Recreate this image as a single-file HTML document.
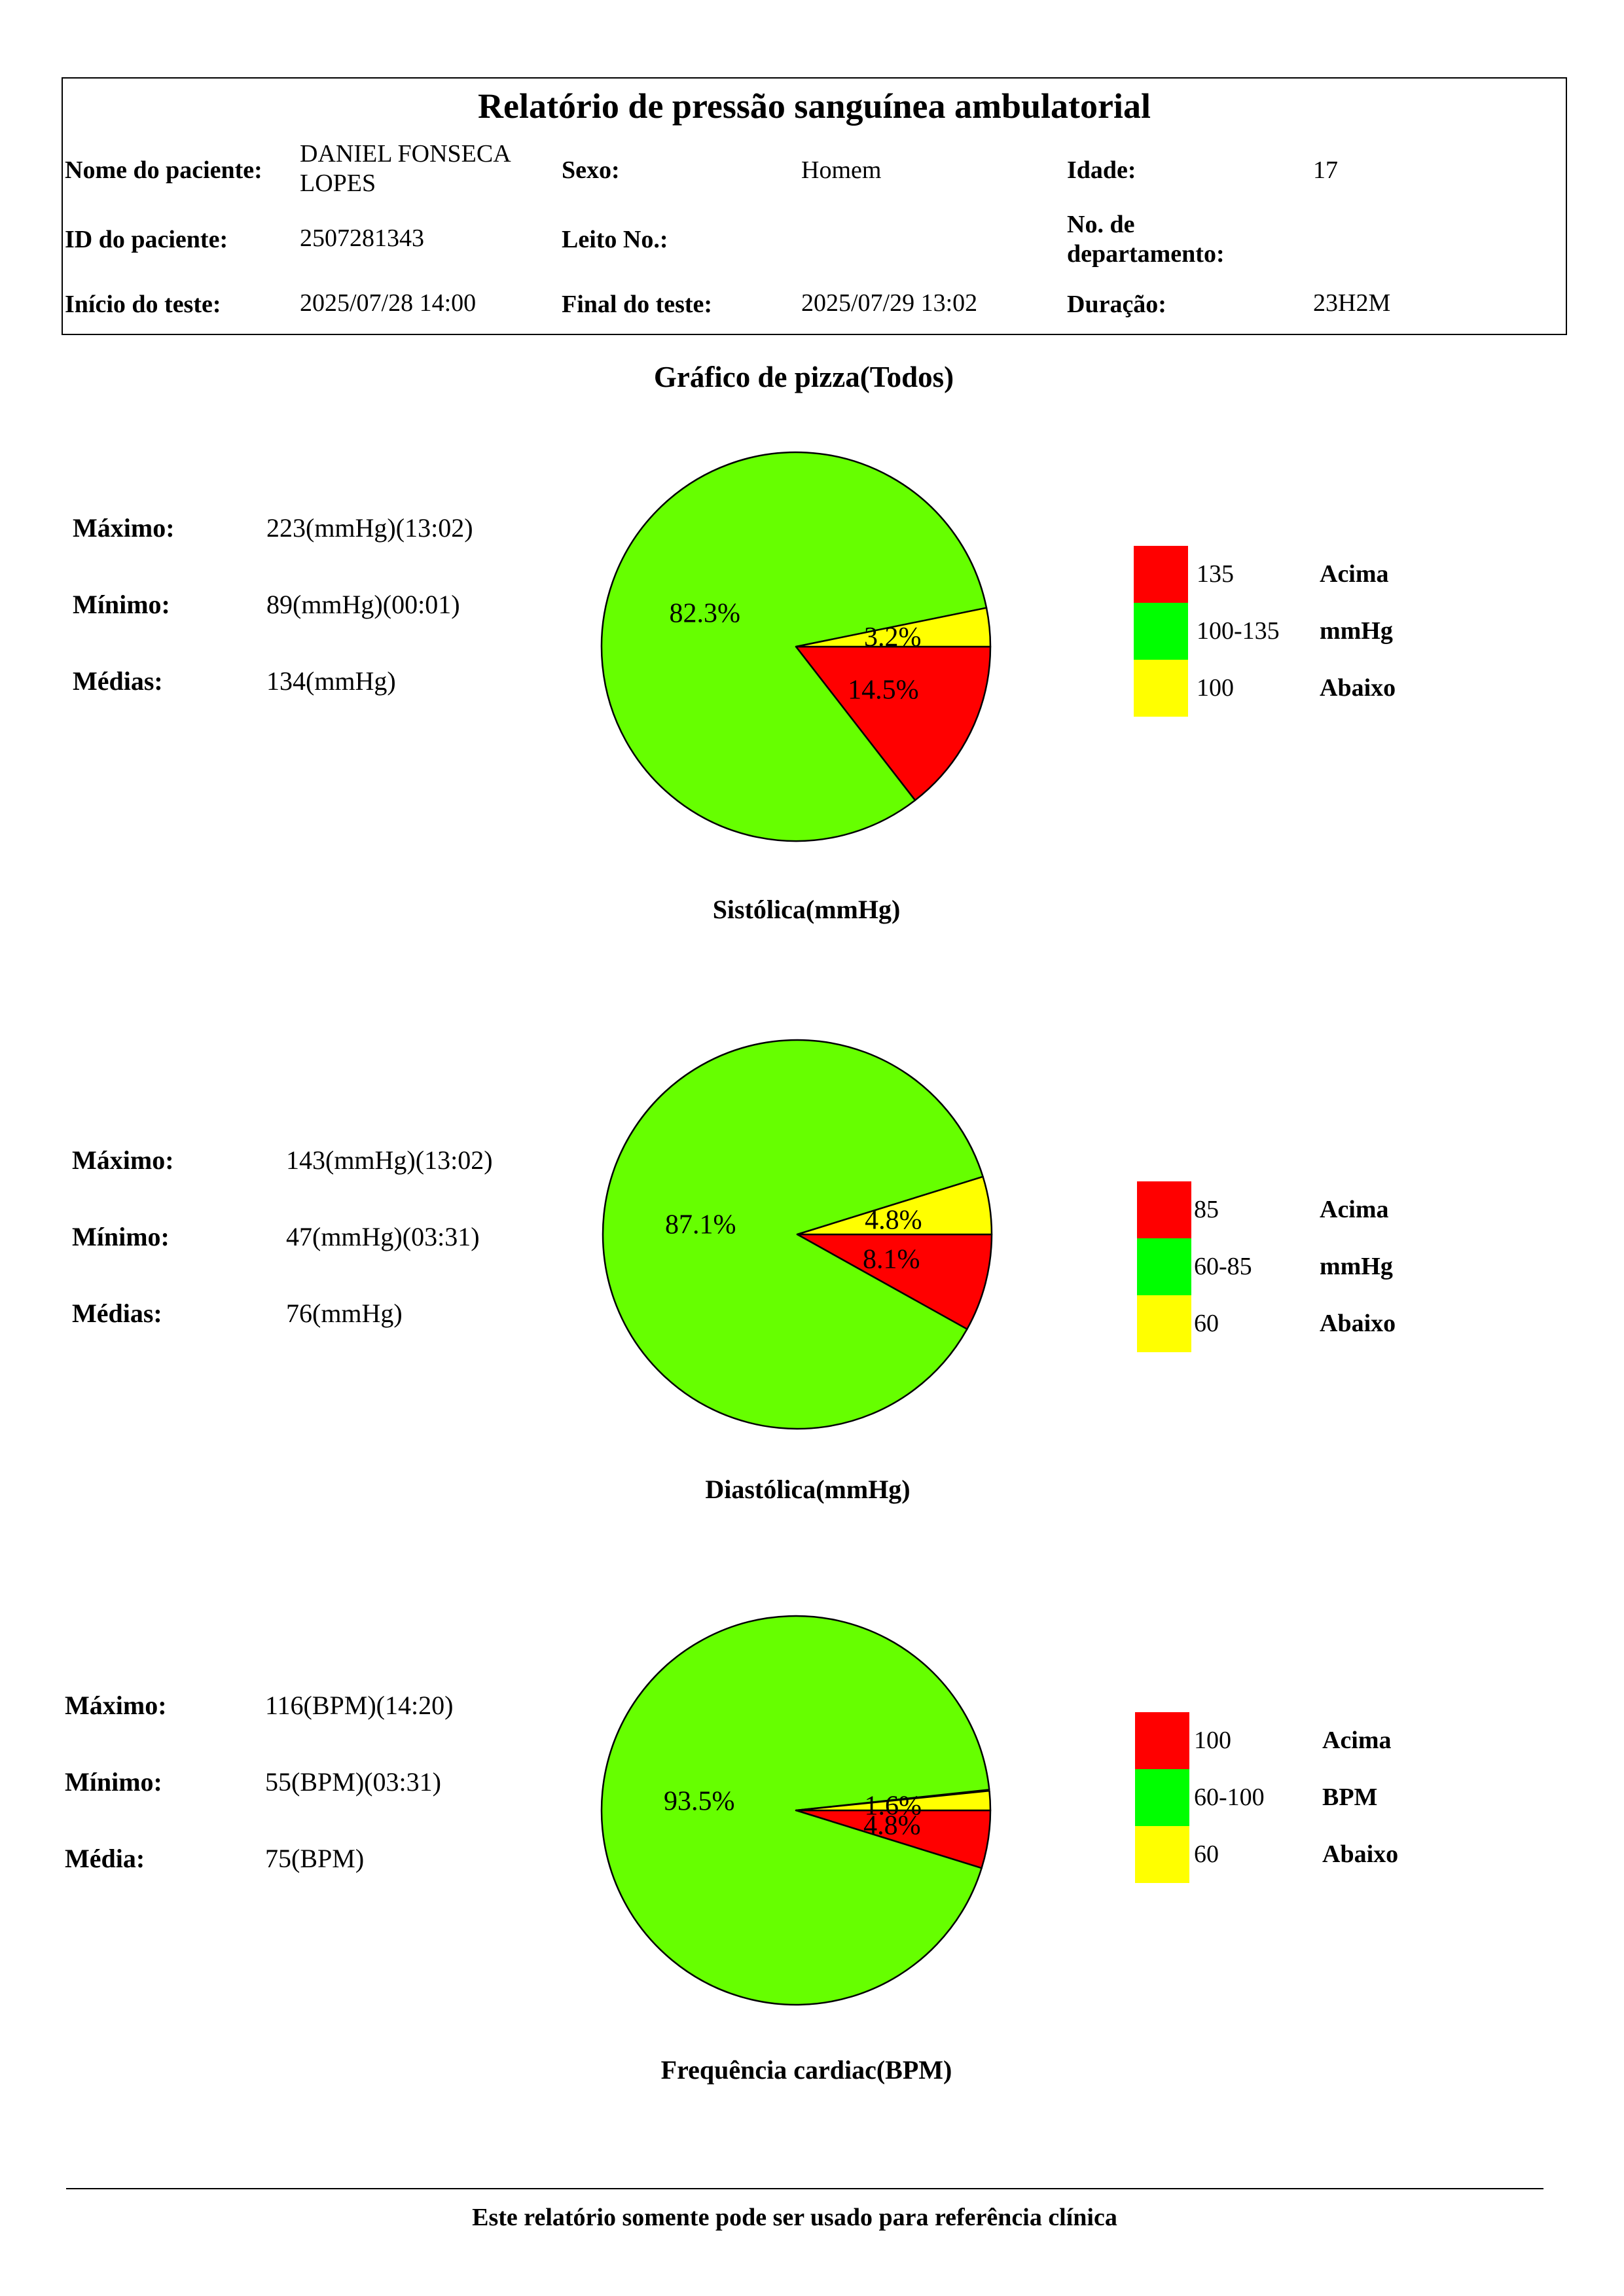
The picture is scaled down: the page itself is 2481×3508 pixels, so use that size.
<!DOCTYPE html>
<html><head><meta charset="utf-8"><style>
html,body{margin:0;padding:0;background:#fff}
svg{display:block}
text{font-family:"Liberation Serif",serif;fill:#000}
.b{font-weight:bold}
</style></head><body>
<svg id="page" width="2481" height="3508" viewBox="0 0 2481 3508" xmlns="http://www.w3.org/2000/svg">
<rect x="95" y="119" width="2298" height="392" fill="none" stroke="#000" stroke-width="2"/>
<text class="b" x="1244" y="180" font-size="54" text-anchor="middle">Relatório de pressão sanguínea ambulatorial</text>
<g font-size="38">
<text class="b" x="99" y="272">Nome do paciente:</text>
<text x="458" y="247">DANIEL FONSECA</text>
<text x="458" y="292">LOPES</text>
<text class="b" x="858" y="272">Sexo:</text>
<text x="1224" y="272">Homem</text>
<text class="b" x="1630" y="272">Idade:</text>
<text x="2006" y="272">17</text>
<text class="b" x="99" y="378">ID do paciente:</text>
<text x="458" y="376">2507281343</text>
<text class="b" x="858" y="378">Leito No.:</text>
<text class="b" x="1630" y="355">No. de</text>
<text class="b" x="1630" y="400">departamento:</text>
<text class="b" x="99" y="477">Início do teste:</text>
<text x="458" y="475">2025/07/28 14:00</text>
<text class="b" x="858" y="477">Final do teste:</text>
<text x="1224" y="475">2025/07/29 13:02</text>
<text class="b" x="1630" y="477">Duração:</text>
<text x="2006" y="475">23H2M</text>
</g>
<text class="b" x="1228" y="591" font-size="45" text-anchor="middle">Gráfico de pizza(Todos)</text>
<g id="charts"></g>
<line x1="101" y1="3344" x2="2358" y2="3344" stroke="#000" stroke-width="2"/>
<text class="b" x="1214" y="3400" font-size="38" text-anchor="middle">Este relatório somente pode ser usado para referência clínica</text>
</svg>
<script>
const chartNames = ["sistolica","diastolica","frequencia"];
const chartTitles = ["Sistólica(mmHg)","Diastólica(mmHg)","Frequência cardiac(BPM)"];
const aboveValues = [14.5, 8.1, 4.8];
const normalValues = [82.3, 87.1, 93.5];
const belowValues = [3.2, 4.8, 1.6];
const statLabels = [["Máximo:","Mínimo:","Médias:"],["Máximo:","Mínimo:","Médias:"],["Máximo:","Mínimo:","Média:"]];
const statValues = [["223(mmHg)(13:02)","89(mmHg)(00:01)","134(mmHg)"],["143(mmHg)(13:02)","47(mmHg)(03:31)","76(mmHg)"],["116(BPM)(14:20)","55(BPM)(03:31)","75(BPM)"]];
const legendRanges = [["135","100-135","100"],["85","60-85","60"],["100","60-100","60"]];
const legendWords = [["Acima","mmHg","Abaixo"],["Acima","mmHg","Abaixo"],["Acima","BPM","Abaixo"]];

const NS="http://www.w3.org/2000/svg";
const root=document.getElementById('charts');
const layout=[
 {cx:1216,cy:988,statX:111,valX:407,statY:820,legX:1732,legY:834,txtX:1828,wordX:2016,titleY:1403},
 {cx:1218,cy:1886,statX:110,valX:437,statY:1786,legX:1737,legY:1805,txtX:1824,wordX:2016,titleY:2289},
 {cx:1216,cy:2766,statX:99,valX:405,statY:2619,legX:1734,legY:2616,txtX:1824,wordX:2020,titleY:3176}
];
const R=297;
function mk(tag,attrs,parent){const e=document.createElementNS(NS,tag);for(const k in attrs)e.setAttribute(k,attrs[k]);parent.appendChild(e);return e;}
function angle(p){return p/100*2*Math.PI;}
function pt(cx,cy,a,r){return [cx+r*Math.cos(a),cy+r*Math.sin(a)];}
function slicePath(cx,cy,a0,a1){const p0=pt(cx,cy,a0,R),p1=pt(cx,cy,a1,R);const large=(a1-a0)>Math.PI?1:0;
 return `M${cx},${cy} L${p0[0]},${p0[1]} A${R},${R} 0 ${large} 1 ${p1[0]},${p1[1]} Z`;}

chartNames.forEach((nm,i)=>{
 const L=layout[i];
 const g=mk('g',{},root);
 
 
 // stats
 for(let j=0;j<3;j++){
  const t=mk('text',{x:L.statX,y:L.statY+j*117,'font-size':40,'class':'b'},g);
  t.textContent=statLabels[i][j];
  
  
  const v=mk('text',{x:L.valX,y:L.statY+j*117,'font-size':40},g);
  v.textContent=statValues[i][j];
  
  
 }
 // slices: yellow (below) counter-clockwise from 0, red (above) clockwise from 0, green rest
 const yb=angle(belowValues[i]), ra=angle(aboveValues[i]), gn=angle(normalValues[i]);
 const slices=[
  {a0:0,a1:ra,fill:'#ff0000',label:aboveValues[i],n:'slice-above'},
  {a0:ra,a1:ra+gn,fill:'#66ff00',label:normalValues[i],n:'slice-normal'},
  {a0:-yb,a1:0,fill:'#ffff00',label:belowValues[i],n:'slice-below'}
 ];
 slices.forEach(s=>{
  const p=mk('path',{d:slicePath(L.cx,L.cy,s.a0,s.a1),fill:s.fill,stroke:'#000','stroke-width':2.5,'stroke-linejoin':'round'},g);
  
  
 });
 slices.forEach(s=>{
  const m=(s.a0+s.a1)/2, q=pt(L.cx,L.cy,m,R*0.5);
  const t=mk('text',{x:q[0],y:q[1]+14,'font-size':42,'text-anchor':'middle'},g);
  t.textContent=s.label.toFixed(1)+'%';
  
  
 });
 // legend
 const cols=['#ff0000','#00ff00','#ffff00'];
 for(let j=0;j<3;j++){
  const r=mk('rect',{x:L.legX,y:L.legY+j*87,width:83,height:87,fill:cols[j]},g);
  
  
  const t=mk('text',{x:L.txtX,y:L.legY+j*87+55,'font-size':38},g);
  t.textContent=legendRanges[i][j];
  
  
  const w=mk('text',{x:L.wordX,y:L.legY+j*87+55,'font-size':38,'class':'b'},g);
  w.textContent=legendWords[i][j];
  
  
 }
 const tt=mk('text',{x:L.cx+16,y:L.titleY,'font-size':40,'class':'b','text-anchor':'middle'},g);
 tt.textContent=chartTitles[i];
 
 
});
</script>
</body></html>
